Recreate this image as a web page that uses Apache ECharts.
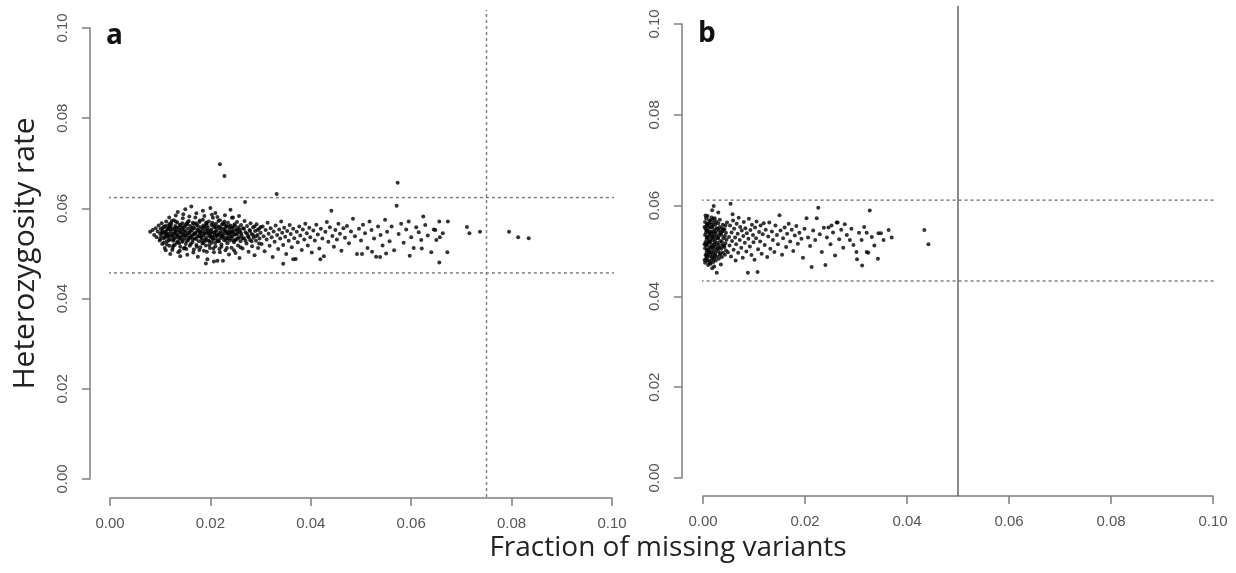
<!DOCTYPE html>
<html>
<head>
<meta charset="utf-8">
<script src="https://cdn.jsdelivr.net/npm/echarts@6/dist/echarts.min.js"></script>
<style>
html,body{margin:0;padding:0;background:#fff}
#chart{width:1236px;height:573px}
</style>
</head>
<body>
<div id="chart"></div>
<script>
// tick labels shared by every axis
const tickLabels = ['0.00', '0.02', '0.04', '0.06', '0.08', '0.10'];

// thresholds per panel [a, b]
const missCut = [0.075, 0.05];
const hetHigh = [0.0624, 0.0612];
const hetLow = [0.0457, 0.0434];
// R pads the plot region by 4% on each side; ablines span it
const plotRange = [-0.004, 0.104];

// panel a: [fraction missing, heterozygosity rate]
const pointsA = [
  [0.0080,0.0548],[0.0085,0.0552],[0.0088,0.0541],[0.0091,0.0556],[0.0093,0.0536],[0.0095,0.0549],[0.0097,0.0562],[0.0099,0.0529],[0.0100,0.0544],[0.0101,0.0555],
  [0.0102,0.0538],[0.0103,0.0567],[0.0104,0.0521],[0.0105,0.0551],[0.0106,0.0545],[0.0107,0.0533],[0.0108,0.0559],[0.0109,0.0512],[0.0110,0.0548],[0.0111,0.0540],
  [0.0112,0.0571],[0.0113,0.0527],[0.0114,0.0553],[0.0115,0.0536],[0.0116,0.0562],[0.0117,0.0544],[0.0118,0.0517],[0.0119,0.0558],[0.0120,0.0531],[0.0121,0.0549],
  [0.0122,0.0566],[0.0123,0.0539],[0.0124,0.0508],[0.0125,0.0554],[0.0126,0.0528],[0.0127,0.0574],[0.0128,0.0545],[0.0129,0.0519],[0.0130,0.0561],[0.0131,0.0535],
  [0.0132,0.0550],[0.0133,0.0524],[0.0134,0.0569],[0.0135,0.0541],[0.0136,0.0503],[0.0137,0.0557],[0.0138,0.0532],[0.0139,0.0547],[0.0140,0.0515],[0.0141,0.0563],
  [0.0142,0.0538],[0.0143,0.0553],[0.0144,0.0526],[0.0145,0.0578],[0.0146,0.0544],[0.0147,0.0511],[0.0148,0.0559],[0.0149,0.0534],[0.0150,0.0548],[0.0151,0.0521],
  [0.0152,0.0566],[0.0153,0.0540],[0.0154,0.0497],[0.0155,0.0555],[0.0156,0.0530],[0.0157,0.0572],[0.0158,0.0545],[0.0159,0.0517],[0.0160,0.0561],[0.0161,0.0537],
  [0.0162,0.0604],[0.0163,0.0551],[0.0164,0.0525],[0.0165,0.0568],[0.0166,0.0542],[0.0167,0.0509],[0.0168,0.0556],[0.0169,0.0533],[0.0170,0.0580],[0.0171,0.0546],
  [0.0172,0.0519],[0.0173,0.0563],[0.0174,0.0538],[0.0175,0.0493],[0.0176,0.0552],[0.0177,0.0527],[0.0178,0.0570],[0.0179,0.0543],[0.0180,0.0514],[0.0181,0.0558],
  [0.0182,0.0535],[0.0183,0.0549],[0.0184,0.0522],[0.0185,0.0575],[0.0186,0.0540],[0.0187,0.0506],[0.0188,0.0560],[0.0189,0.0531],[0.0190,0.0554],[0.0191,0.0518],
  [0.0192,0.0567],[0.0193,0.0544],[0.0194,0.0487],[0.0195,0.0557],[0.0196,0.0529],[0.0197,0.0571],[0.0198,0.0541],[0.0199,0.0512],[0.0200,0.0550],[0.0201,0.0536],
  [0.0202,0.0563],[0.0203,0.0524],[0.0204,0.0547],[0.0205,0.0579],[0.0206,0.0533],[0.0207,0.0503],[0.0208,0.0558],[0.0209,0.0541],[0.0210,0.0516],[0.0211,0.0566],
  [0.0212,0.0538],[0.0213,0.0552],[0.0214,0.0484],[0.0215,0.0527],[0.0216,0.0560],[0.0217,0.0545],[0.0218,0.0510],[0.0219,0.0574],[0.0220,0.0534],[0.0221,0.0549],
  [0.0222,0.0520],[0.0223,0.0564],[0.0224,0.0539],[0.0225,0.0484],[0.0226,0.0555],[0.0227,0.0530],[0.0228,0.0571],[0.0229,0.0544],[0.0230,0.0507],[0.0231,0.0559],
  [0.0232,0.0535],[0.0233,0.0548],[0.0234,0.0523],[0.0235,0.0568],[0.0236,0.0541],[0.0237,0.0498],[0.0238,0.0554],[0.0239,0.0529],[0.0240,0.0562],[0.0241,0.0546],
  [0.0242,0.0513],[0.0243,0.0557],[0.0244,0.0537],[0.0245,0.0580],[0.0246,0.0550],[0.0247,0.0525],[0.0248,0.0565],[0.0249,0.0542],[0.0250,0.0501],[0.0251,0.0553],
  [0.0252,0.0532],[0.0253,0.0570],[0.0254,0.0545],[0.0255,0.0518],[0.0256,0.0558],[0.0257,0.0536],[0.0258,0.0490],[0.0259,0.0549],[0.0260,0.0527],[0.0261,0.0563],
  [0.0262,0.0540],[0.0264,0.0511],[0.0265,0.0556],[0.0267,0.0534],[0.0268,0.0572],[0.0269,0.0614],[0.0270,0.0547],[0.0272,0.0522],[0.0273,0.0561],[0.0275,0.0538],
  [0.0276,0.0504],[0.0278,0.0552],[0.0279,0.0530],[0.0280,0.0567],[0.0282,0.0543],[0.0283,0.0516],[0.0285,0.0558],[0.0286,0.0535],[0.0288,0.0496],[0.0289,0.0550],
  [0.0291,0.0528],[0.0292,0.0565],[0.0294,0.0541],[0.0295,0.0512],[0.0297,0.0555],[0.0298,0.0533],[0.0300,0.0546],
  [0.0106,0.0558],[0.0109,0.0536],[0.0112,0.0546],[0.0115,0.0555],[0.0118,0.0539],[0.0121,0.0560],[0.0124,0.0543],[0.0127,0.0531],[0.0130,0.0548],[0.0133,0.0557],
  [0.0136,0.0537],[0.0139,0.0563],[0.0142,0.0546],[0.0145,0.0529],[0.0148,0.0551],[0.0151,0.0541],[0.0154,0.0565],[0.0157,0.0534],[0.0160,0.0550],[0.0163,0.0539],
  [0.0166,0.0558],[0.0169,0.0545],[0.0172,0.0532],[0.0175,0.0561],[0.0178,0.0549],[0.0181,0.0537],[0.0184,0.0555],[0.0187,0.0543],[0.0190,0.0528],[0.0193,0.0562],
  [0.0196,0.0547],[0.0199,0.0539],[0.0202,0.0553],[0.0205,0.0531],[0.0208,0.0546],[0.0211,0.0559],[0.0214,0.0541],[0.0217,0.0527],[0.0220,0.0556],[0.0223,0.0544],
  [0.0226,0.0536],[0.0229,0.0552],[0.0232,0.0561],[0.0235,0.0533],[0.0238,0.0547],[0.0241,0.0539],[0.0244,0.0558],[0.0247,0.0543],[0.0250,0.0530],[0.0253,0.0551],
  [0.0113,0.0520],[0.0119,0.0566],[0.0126,0.0518],[0.0131,0.0571],[0.0138,0.0523],[0.0144,0.0567],[0.0149,0.0513],[0.0155,0.0570],[0.0161,0.0521],[0.0167,0.0566],
  [0.0173,0.0515],[0.0179,0.0573],[0.0186,0.0524],[0.0192,0.0569],[0.0198,0.0519],[0.0204,0.0568],[0.0210,0.0524],[0.0216,0.0572],[0.0222,0.0515],[0.0228,0.0565],
  [0.0100,0.0532],[0.0103,0.0547],[0.0107,0.0524],[0.0110,0.0561],[0.0114,0.0541],[0.0117,0.0529],[0.0120,0.0553],[0.0123,0.0572],[0.0126,0.0537],[0.0129,0.0556],
  [0.0132,0.0542],[0.0135,0.0526],[0.0138,0.0551],[0.0141,0.0534],[0.0144,0.0557],[0.0147,0.0540],[0.0150,0.0562],[0.0153,0.0527],[0.0156,0.0546],[0.0159,0.0535],
  [0.0162,0.0555],[0.0165,0.0531],[0.0168,0.0543],[0.0171,0.0567],[0.0174,0.0552],[0.0177,0.0538],[0.0180,0.0546],[0.0183,0.0529],[0.0186,0.0562],[0.0189,0.0547],
  [0.0192,0.0535],[0.0195,0.0551],[0.0198,0.0527],[0.0201,0.0545],[0.0204,0.0537],[0.0207,0.0562],[0.0210,0.0549],[0.0213,0.0531],[0.0216,0.0541],[0.0219,0.0557],
  [0.0222,0.0538],[0.0225,0.0567],[0.0228,0.0550],[0.0231,0.0528],[0.0234,0.0545],[0.0237,0.0560],[0.0240,0.0534],[0.0243,0.0548],[0.0246,0.0529],[0.0249,0.0561],
  [0.0252,0.0542],[0.0255,0.0533],[0.0258,0.0553],[0.0261,0.0545],[0.0264,0.0533],[0.0267,0.0555],[0.0270,0.0528],[0.0273,0.0544],[0.0276,0.0536],[0.0279,0.0550],
  [0.0282,0.0527],[0.0285,0.0541],[0.0288,0.0560],[0.0291,0.0538],[0.0294,0.0552],[0.0297,0.0522],[0.0300,0.0559],
  [0.0111,0.0507],[0.0125,0.0513],[0.0139,0.0506],[0.0152,0.0510],[0.0166,0.0502],[0.0178,0.0508],[0.0193,0.0504],[0.0206,0.0511],[0.0219,0.0503],[0.0233,0.0512],
  [0.0247,0.0507],[0.0260,0.0514],
  [0.0118,0.0580],[0.0131,0.0584],[0.0146,0.0587],[0.0158,0.0582],[0.0172,0.0589],[0.0188,0.0583],[0.0203,0.0586],[0.0214,0.0581],[0.0229,0.0585],[0.0243,0.0579],
  [0.0257,0.0583],
  [0.0135,0.0592],[0.0150,0.0598],[0.0185,0.0595],[0.0200,0.0601],[0.0210,0.0590],[0.0240,0.0597],[0.0191,0.0478],[0.0207,0.0482],[0.0120,0.0499],[0.0140,0.0494],
  [0.0302,0.0521],[0.0304,0.0560],[0.0306,0.0538],[0.0308,0.0505],[0.0310,0.0552],[0.0312,0.0531],[0.0314,0.0568],[0.0316,0.0544],[0.0318,0.0517],[0.0320,0.0556],
  [0.0322,0.0536],[0.0324,0.0492],[0.0326,0.0549],[0.0328,0.0526],[0.0330,0.0562],[0.0332,0.0632],[0.0333,0.0541],[0.0335,0.0510],[0.0337,0.0553],[0.0339,0.0533],
  [0.0341,0.0571],[0.0343,0.0546],[0.0345,0.0519],[0.0345,0.0477],[0.0365,0.0487],[0.0419,0.0487],
  [0.0347,0.0557],[0.0349,0.0537],[0.0351,0.0499],[0.0353,0.0550],[0.0356,0.0528],[0.0358,0.0563],[0.0360,0.0543],[0.0362,0.0514],[0.0365,0.0555],[0.0367,0.0534],
  [0.0370,0.0488],[0.0372,0.0548],[0.0374,0.0525],[0.0377,0.0560],[0.0379,0.0540],[0.0382,0.0508],[0.0384,0.0553],[0.0387,0.0531],[0.0389,0.0566],[0.0392,0.0545],
  [0.0394,0.0518],[0.0397,0.0557],[0.0399,0.0536],
  [0.0402,0.0502],[0.0405,0.0551],[0.0408,0.0529],[0.0411,0.0564],[0.0414,0.0542],[0.0417,0.0511],[0.0420,0.0555],[0.0423,0.0533],[0.0426,0.0494],[0.0429,0.0548],
  [0.0432,0.0570],[0.0435,0.0526],[0.0438,0.0558],[0.0441,0.0595],[0.0443,0.0539],[0.0446,0.0515],[0.0449,0.0552],[0.0452,0.0531],[0.0455,0.0566],[0.0458,0.0544],
  [0.0461,0.0506],[0.0465,0.0556],[0.0468,0.0535],
  [0.0472,0.0561],[0.0476,0.0523],[0.0480,0.0549],[0.0484,0.0577],[0.0488,0.0538],[0.0492,0.0499],[0.0496,0.0555],[0.0500,0.0529],[0.0502,0.0499],[0.0504,0.0564],
  [0.0508,0.0545],[0.0513,0.0512],[0.0517,0.0571],[0.0521,0.0552],[0.0522,0.0504],[0.0526,0.0533],[0.0530,0.0493],[0.0534,0.0560],[0.0538,0.0492],[0.0539,0.0541],
  [0.0543,0.0518],[0.0548,0.0575],[0.0550,0.0500],[0.0552,0.0548],[0.0557,0.0527],[0.0561,0.0560],[0.0566,0.0507],[0.0571,0.0606],[0.0573,0.0657],[0.0575,0.0543],
  [0.0580,0.0566],[0.0585,0.0524],[0.0590,0.0553],[0.0595,0.0571],[0.0597,0.0495],[0.0600,0.0536],
  [0.0605,0.0512],[0.0610,0.0558],[0.0615,0.0547],[0.0620,0.0530],[0.0621,0.0511],[0.0624,0.0582],[0.0628,0.0563],[0.0633,0.0540],[0.0640,0.0503],[0.0645,0.0553],
  [0.0648,0.0552],[0.0650,0.0530],[0.0656,0.0571],[0.0657,0.0536],[0.0656,0.0480],[0.0663,0.0545],[0.0673,0.0571],[0.0672,0.0503],
  [0.0711,0.0559],[0.0716,0.0545],[0.0737,0.0548],[0.0795,0.0548],[0.0813,0.0536],[0.0834,0.0534],
  [0.0219,0.0698],[0.0228,0.0672]
];

// panel b: [fraction missing, heterozygosity rate]
const pointsB = [
  [0.0004,0.0474],[0.0006,0.0483],[0.0005,0.0491],[0.0007,0.0498],[0.0004,0.0506],[0.0006,0.0512],[0.0005,0.0520],[0.0007,0.0527],[0.0004,0.0535],[0.0006,0.0541],
  [0.0005,0.0549],[0.0007,0.0556],[0.0004,0.0564],[0.0006,0.0572],
  [0.0010,0.0469],[0.0012,0.0478],[0.0009,0.0486],[0.0011,0.0494],[0.0010,0.0501],[0.0012,0.0509],[0.0009,0.0516],[0.0011,0.0523],[0.0010,0.0531],[0.0012,0.0538],
  [0.0009,0.0545],[0.0011,0.0553],[0.0010,0.0560],[0.0012,0.0568],[0.0009,0.0577],
  [0.0015,0.0472],[0.0017,0.0480],[0.0014,0.0489],[0.0016,0.0497],[0.0015,0.0505],[0.0017,0.0513],[0.0014,0.0521],[0.0016,0.0528],[0.0015,0.0536],[0.0017,0.0543],
  [0.0014,0.0551],[0.0016,0.0558],[0.0015,0.0566],[0.0017,0.0574],
  [0.0020,0.0476],[0.0022,0.0484],[0.0019,0.0492],[0.0021,0.0500],[0.0020,0.0507],[0.0022,0.0515],[0.0019,0.0524],[0.0021,0.0532],[0.0020,0.0539],[0.0022,0.0547],
  [0.0019,0.0555],[0.0021,0.0562],[0.0020,0.0570],[0.0021,0.0599],
  [0.0025,0.0479],[0.0027,0.0488],[0.0024,0.0495],[0.0026,0.0503],[0.0025,0.0511],[0.0028,0.0518],[0.0024,0.0526],[0.0026,0.0534],[0.0025,0.0542],[0.0027,0.0550],
  [0.0024,0.0558],[0.0026,0.0565],
  [0.0031,0.0483],[0.0033,0.0491],[0.0030,0.0499],[0.0032,0.0507],[0.0031,0.0514],[0.0034,0.0522],[0.0030,0.0530],[0.0032,0.0537],[0.0031,0.0545],[0.0033,0.0553],
  [0.0030,0.0561],[0.0033,0.0569],
  [0.0037,0.0487],[0.0039,0.0496],[0.0036,0.0505],[0.0038,0.0512],[0.0037,0.0520],[0.0040,0.0528],[0.0036,0.0535],[0.0038,0.0543],[0.0037,0.0550],[0.0039,0.0558],
  [0.0043,0.0492],[0.0045,0.0501],[0.0042,0.0509],[0.0044,0.0517],[0.0046,0.0525],[0.0043,0.0533],[0.0045,0.0540],[0.0042,0.0548],[0.0044,0.0556],[0.0047,0.0563],
  [0.0008,0.0479],[0.0007,0.0490],[0.0008,0.0503],[0.0007,0.0516],[0.0008,0.0531],[0.0007,0.0545],[0.0008,0.0560],[0.0013,0.0473],[0.0013,0.0497],[0.0013,0.0519],
  [0.0013,0.0542],[0.0013,0.0563],[0.0018,0.0485],[0.0018,0.0509],[0.0018,0.0532],[0.0018,0.0553],[0.0023,0.0490],[0.0023,0.0519],[0.0023,0.0541],[0.0023,0.0572],
  [0.0029,0.0506],[0.0029,0.0528],[0.0029,0.0549],[0.0034,0.0495],[0.0035,0.0541],[0.0041,0.0512],[0.0040,0.0547],[0.0003,0.0480],[0.0003,0.0515],[0.0003,0.0553],
  [0.0005,0.0578],
  [0.0027,0.0452],[0.0018,0.0462],[0.0022,0.0466],[0.0035,0.0470],[0.0054,0.0604],[0.0018,0.0590],[0.0030,0.0585],[0.0058,0.0581],
  [0.0049,0.0497],[0.0051,0.0531],[0.0052,0.0512],[0.0053,0.0556],[0.0055,0.0488],[0.0056,0.0541],[0.0057,0.0522],[0.0059,0.0567],[0.0060,0.0503],[0.0061,0.0549],
  [0.0063,0.0530],[0.0064,0.0479],[0.0065,0.0515],[0.0066,0.0560],[0.0068,0.0538],[0.0069,0.0496],[0.0070,0.0573],[0.0072,0.0524],[0.0073,0.0553],[0.0075,0.0507],
  [0.0076,0.0545],[0.0078,0.0485],[0.0079,0.0533],[0.0080,0.0564],[0.0082,0.0518],[0.0083,0.0550],[0.0085,0.0499],[0.0086,0.0539],[0.0088,0.0452],[0.0089,0.0527],
  [0.0090,0.0571],[0.0092,0.0510],[0.0093,0.0546],[0.0095,0.0491],[0.0096,0.0558],[0.0098,0.0535],[0.0099,0.0519],[0.0101,0.0481],[0.0102,0.0552],[0.0104,0.0528],
  [0.0105,0.0565],[0.0107,0.0454],[0.0108,0.0504],[0.0110,0.0542],[0.0112,0.0521],[0.0113,0.0556],[0.0115,0.0494],[0.0117,0.0537],[0.0119,0.0561],
  [0.0121,0.0513],[0.0123,0.0547],[0.0126,0.0487],[0.0128,0.0532],[0.0130,0.0563],[0.0132,0.0505],[0.0135,0.0543],[0.0137,0.0524],[0.0140,0.0498],[0.0142,0.0556],
  [0.0145,0.0535],[0.0147,0.0515],[0.0150,0.0579],[0.0152,0.0545],[0.0155,0.0492],[0.0157,0.0528],[0.0160,0.0552],[0.0163,0.0509],[0.0165,0.0538],[0.0168,0.0560],
  [0.0171,0.0521],[0.0174,0.0547],[0.0177,0.0500],[0.0180,0.0534],[0.0183,0.0555],[0.0186,0.0516],[0.0189,0.0540],[0.0193,0.0527],[0.0196,0.0485],[0.0199,0.0549],
  [0.0203,0.0572],[0.0206,0.0530],[0.0210,0.0511],[0.0213,0.0465],[0.0216,0.0545],[0.0220,0.0524],[0.0223,0.0572],[0.0226,0.0595],[0.0229,0.0537],[0.0233,0.0498],
  [0.0237,0.0551],[0.0240,0.0469],[0.0243,0.0530],[0.0246,0.0552],[0.0250,0.0515],[0.0252,0.0556],[0.0255,0.0541],[0.0259,0.0490],[0.0262,0.0563],[0.0264,0.0563],
  [0.0267,0.0526],[0.0271,0.0547],[0.0275,0.0507],[0.0278,0.0559],[0.0282,0.0535],[0.0288,0.0524],[0.0291,0.0549],[0.0295,0.0513],
  [0.0301,0.0498],[0.0302,0.0482],[0.0306,0.0540],[0.0311,0.0524],[0.0312,0.0468],[0.0316,0.0553],[0.0321,0.0540],[0.0321,0.0498],[0.0324,0.0496],[0.0327,0.0589],
  [0.0331,0.0531],[0.0336,0.0512],[0.0343,0.0483],[0.0344,0.0539],[0.0349,0.0539],[0.0354,0.0524],[0.0364,0.0546],[0.0370,0.0530],[0.0434,0.0546],[0.0442,0.0515]
];

const axisGray = '#7f7f7f';
const labelFont = {color: '#555', fontSize: 15, fontFamily: 'Liberation Sans'};

const mkX = (i, off) => ({
  type: 'value', gridIndex: i, min: 0, max: 0.1, interval: 0.02, offset: off,
  axisLine: {show: true, onZero: false, lineStyle: {color: axisGray, width: 1.5}},
  axisTick: {show: true, length: 8, lineStyle: {color: axisGray, width: 1.5}},
  axisLabel: Object.assign({margin: 18, formatter: (v, idx) => tickLabels[idx]}, labelFont),
  splitLine: {show: false}
});

const mkY = (i, off, extra) => Object.assign({
  type: 'value', gridIndex: i, min: 0, max: 0.1, interval: 0.02, offset: off,
  axisLine: {show: true, onZero: false, lineStyle: {color: axisGray, width: 1.5}},
  axisTick: {show: true, length: 8, lineStyle: {color: axisGray, width: 1.5}},
  axisLabel: Object.assign({margin: 20, rotate: 90, formatter: (v, idx) => tickLabels[idx]}, labelFont),
  splitLine: {show: false}
}, extra || {});

const dots = (i, data) => ({
  type: 'scatter', xAxisIndex: i, yAxisIndex: i, data: data,
  symbol: 'circle', symbolSize: 4, itemStyle: {color: '#000'}, silent: true, z: 3
});

const refLine = (i, data, type, color) => ({
  type: 'line', xAxisIndex: i, yAxisIndex: i, data: data, clip: false,
  symbol: 'none', silent: true, z: 2,
  lineStyle: {color: color, width: 1.5, type: type}
});

const hLine = (i, y, type, color) => refLine(i, [[plotRange[0], y], [plotRange[1], y]], type, color);
const vLine = (i, x, type, color) => refLine(i, [[x, plotRange[0]], [x, plotRange[1]]], type, color);

const option = {
  animation: false,
  backgroundColor: '#fff',
  title: [
    {text: 'a', left: 106, top: 22, padding: 0, textStyle: {fontSize: 28, fontWeight: 'bold', fontFamily: 'Open Sans', color: '#111'}},
    {text: 'b', left: 698, top: 20, padding: 0, textStyle: {fontSize: 28, fontWeight: 'bold', fontFamily: 'Open Sans', color: '#111'}},
    {text: 'Fraction of missing variants', left: 668, textAlign: 'center', top: 534, padding: 0,
     textStyle: {fontSize: 28, fontWeight: 'normal', fontFamily: 'Open Sans', color: '#222'}}
  ],
  grid: [
    {left: 110, top: 28, width: 502, height: 451, outerBoundsMode: 'none'},
    {left: 703, top: 24, width: 510, height: 454, outerBoundsMode: 'none'}
  ],
  xAxis: [mkX(0, 19), mkX(1, 18)],
  yAxis: [
    mkY(0, 20, {name: 'Heterozygosity rate', nameLocation: 'middle', nameRotate: 90, nameGap: 50,
      nameTextStyle: {fontSize: 30, fontFamily: 'Open Sans', color: '#222'}}),
    mkY(1, 21)
  ],
  series: [
    hLine(0, hetHigh[0], [3, 3], '#808080'),
    hLine(0, hetLow[0], [3, 3], '#808080'),
    vLine(0, missCut[0], [3, 3], '#808080'),
    hLine(1, hetHigh[1], [3, 3], '#808080'),
    hLine(1, hetLow[1], [3, 3], '#808080'),
    vLine(1, missCut[1], 'solid', '#666'),
    dots(0, pointsA),
    dots(1, pointsB)
  ]
};

window.addEventListener('load', () => {
  const chart = echarts.init(document.getElementById('chart'));
  chart.setOption(option);
});
</script>
</body>
</html>
